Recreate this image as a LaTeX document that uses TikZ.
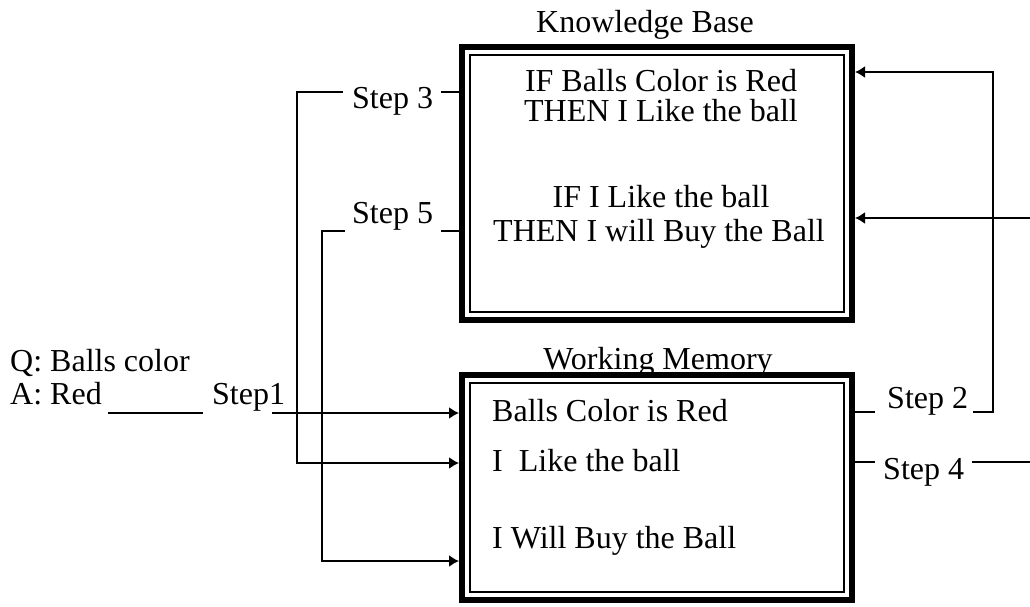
\documentclass[tikz,border=0pt]{standalone}
\usepackage{fontspec}
\setmainfont{Liberation Serif}
\usetikzlibrary{arrows.meta, positioning, calc}

\tikzset{
  memo/.style={draw, line width=6pt, inner sep=0pt, minimum width=390pt, fill=white},
  lbl/.style={inner sep=0pt, font=\fontsize{32}{35}\selectfont},
  wire/.style={line width=1.8pt},
  arr/.style={wire, -{Latex[length=10pt,width=12pt]}},
}

\begin{document}
\begin{tikzpicture}[x=1pt, y=-1pt]
\useasboundingbox (0,0) rectangle (1030,606);

% --- Knowledge base ---
\node[lbl, anchor=base] (kbtitle) at (645,32) {Knowledge Base};
\node[memo, minimum height=273pt] (kb) at (657,183.5) {};
\draw[line width=1.3pt] ([shift={(11,11)}]kb.north west) rectangle ([shift={(-11,-11)}]kb.south east);

\node[lbl, anchor=base] (ruleA) at (661,91) {IF Balls Color is Red};
\node[lbl, anchor=base] (ruleB) at (661,121) {THEN I Like the ball};
\node[lbl, anchor=base] (ruleC) at (661,207) {IF I Like the ball};
\node[lbl, anchor=base] (ruleD) at (659,241) {THEN I will Buy the Ball};

% --- Working memory ---
\node[lbl, anchor=base] (wmtitle) at (658,369) {Working Memory};
\node[memo, minimum height=225pt] (wm) at (657,487.5) {};
\draw[line width=1.3pt] ([shift={(11,11)}]wm.north west) rectangle ([shift={(-11,-11)}]wm.south east);

\node[lbl, anchor=base west] (factA) at (492,421) {Balls Color is Red};
\node[lbl, anchor=base west] (factB) at (492,471) {I\ \ Like the ball};
\node[lbl, anchor=base west] (factC) at (492,548) {I Will Buy the Ball};

% --- question / answer ---
\node[lbl, anchor=base west] (ques) at (10,371) {Q: Balls color};
\node[lbl, anchor=base west] (ans) at (10,404) {A: Red};
\node[lbl, anchor=base west] (step1) at (212,404) {Step1};

% step labels
\node[lbl, anchor=base west] (step3) at (352,108) {Step 3};
\node[lbl, anchor=base west] (step5) at (352,223) {Step 5};
\node[lbl, anchor=base west] (step2) at (887,408) {Step 2};
\node[lbl, anchor=base west] (step4) at (883,479) {Step 4};

% bend points
\coordinate (b1) at (272,413);
\coordinate (b3) at (297,92);
\coordinate (e3) at (297,463);
\coordinate (b5) at (322,231);
\coordinate (e5) at (322,561);
\coordinate (b2) at (993,412);
\coordinate (t2) at (993,72);
\coordinate (b4) at (1040,462);
\coordinate (t4) at (1040,218);

% Step 1
\draw[wire] ([xshift=6pt]ans.east |- b1) -- ([xshift=-9pt]step1.west |- b1);
\draw[arr] (b1) -- (wm.west |- b1);

% Step 3
\draw[wire] (kb.west |- b3) -- ([xshift=8pt]step3.east |- b3);
\draw[arr] ([xshift=-9pt]step3.west |- b3) -- (b3) -- (e3) -- (wm.west |- e3);

% Step 5
\draw[wire] (kb.west |- b5) -- ([xshift=8pt]step5.east |- b5);
\draw[arr] ([xshift=-7pt]step5.west |- b5) -- (b5) -- (e5) -- (wm.west |- e5);

% Step 2
\draw[wire] (wm.east |- b2) -- ([xshift=-12pt]step2.west |- b2);
\draw[arr] ([xshift=5pt]step2.east |- b2) -- (b2) -- (t2) -- (kb.east |- t2);

% Step 4
\draw[wire] (wm.east |- b4) -- ([xshift=-8pt]step4.west |- b4);
\draw[arr] ([xshift=8pt]step4.east |- b4) -- (b4) -- (t4) -- (kb.east |- t4);

\end{tikzpicture}
\end{document}
